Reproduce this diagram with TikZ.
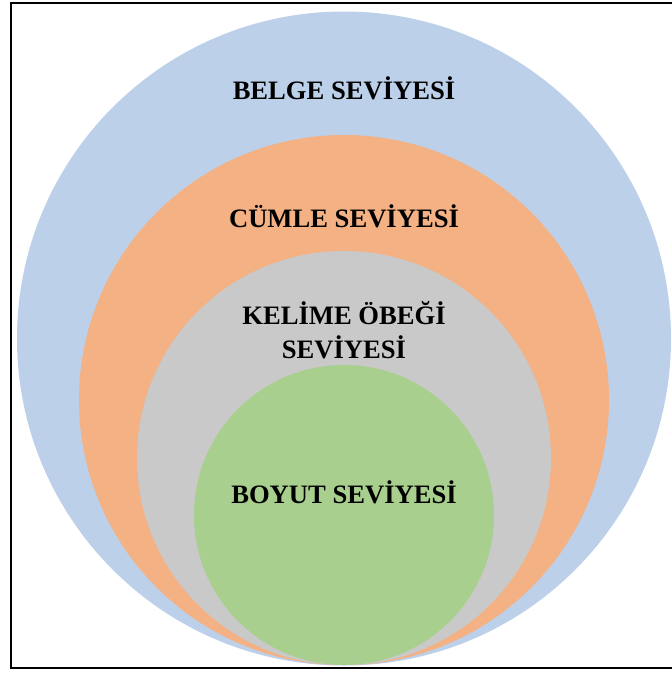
\documentclass[tikz,border=0pt]{standalone}
\usepackage{fontspec}
\setmainfont{Liberation Serif}
\usepackage{xcolor}
\definecolor{mavi}{RGB}{189,208,233}
\definecolor{turuncu}{RGB}{243,177,132}
\definecolor{gri}{RGB}{201,201,201}
\definecolor{yesil}{RGB}{168,207,142}
\tikzset{seviye/.style={font=\fontsize{26.6}{34}\selectfont\bfseries, align=center, inner sep=0pt}}

\begin{document}
\begin{tikzpicture}[x=1pt, y=-1pt]
    % Parametreler
    \pgfmathsetmacro{\cx}{344}
    \useasboundingbox (0,0) rectangle (672,673);
    % Cerceve
    \draw[line width=2.4pt] (11,3) rectangle (690,668);
    % Daireler
    \coordinate (c1) at (\cx,338.5);
    \fill[mavi] (c1) circle (327);
    \coordinate (c2) at (\cx,400);
    \fill[turuncu] (c2) circle (265);
    \coordinate (c3) at (\cx,458);
    \fill[gri] (c3) circle (207);
    \coordinate (c4) at (\cx,515);
    \fill[yesil] (c4) circle (150);
    % Yazilar
    \node[seviye] (belge) at (\cx,88) {BELGE SEVİYESİ};
    \node[seviye] (cumle) at (\cx,216) {CÜMLE SEVİYESİ};
    \node[seviye] (obek) at (\cx,330) {KELİME ÖBEĞİ\\SEVİYESİ};
    \node[seviye] (boyut) at (\cx,492) {BOYUT SEVİYESİ};
\end{tikzpicture}
\end{document}
